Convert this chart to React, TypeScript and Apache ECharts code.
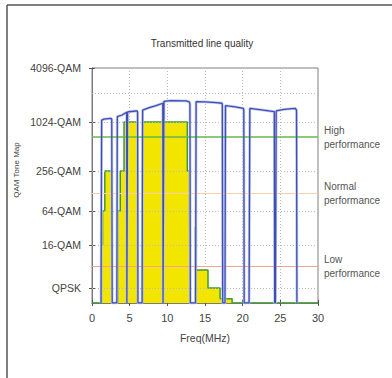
import React, { useEffect, useRef } from 'react';
import * as echarts from 'echarts';

// Y scale: arbitrary "tone level" units, 0 = bottom of plot, 100 = 4096-QAM
const yTickValues = [6.4, 24.7, 39.1, 56.2, 77.0, 100];
const yTickLabels = ['QPSK', '16-QAM', '64-QAM', '256-QAM', '1024-QAM', '4096-QAM'];
const yGridValues = [6.4, 24.7, 39.1, 56.2, 77.0, 89.4];

const thresholdValues = [70.6, 46.8, 15.7];
const thresholdLabels = ['High\nperformance', 'Normal\nperformance', 'Low\nperformance'];
const thresholdColors = ['#66b84a', '#f8cfae', '#f2a392'];

// Tone map (yellow area with green edge)
const toneFreq = [
  0, 1.25, 1.25, 1.4, 1.4, 1.7, 1.7, 2.65, 2.65,
  3.4, 3.4, 3.75, 3.75, 4.25, 4.25, 6.05, 6.05,
  6.7, 6.7, 12.65, 12.65, 12.95, 12.95, 13.02, 13.02,
  13.7, 13.7, 13.85, 13.85, 15.4, 15.4, 17.0, 17.0, 18.6, 18.6, 30,
];
const toneLevel = [
  0, 0, 24.7, 24.7, 39.1, 39.1, 56.2, 56.2, 0,
  0, 39.1, 39.1, 56.2, 56.2, 77.0, 77.0, 0,
  0, 77.0, 77.0, 56.2, 56.2, 39.1, 39.1, 0,
  0, 32.3, 32.3, 14.0, 14.0, 6.4, 6.4, 1.8, 1.8, 0, 0,
];

// Measured line (blue)
const lineFreq = [
  1.2, 1.28, 1.6, 2.5, 2.62, 2.68,
  3.3, 3.36, 4.0, 4.6, 4.63, 4.68, 4.72, 5.5, 6.0, 6.05, 6.1,
  6.65, 6.72, 7.5, 8.5, 9.4, 9.43, 9.5, 9.55, 10.5, 12.5, 12.9, 13.0, 13.05,
  13.75, 13.82, 15, 16.5, 17.25, 17.3, 17.35,
  17.65, 17.72, 19, 20.1, 20.15, 20.2,
  20.85, 20.95, 22.5, 24.2, 24.25, 24.35, 24.45, 25.5, 27.0, 27.15, 27.2,
];
const lineLevel = [
  0, 77.8, 78.2, 78.6, 78.2, 0,
  0, 79.3, 80.0, 81.2, 0, 0, 81.3, 81.6, 81.8, 81.0, 0,
  0, 82.1, 83.0, 84.0, 85.0, 0, 0, 85.8, 86.1, 86.0, 85.6, 84.8, 0,
  0, 85.7, 85.6, 85.3, 85.0, 84.3, 0,
  0, 84.0, 83.5, 82.8, 82.0, 0,
  0, 82.8, 82.2, 81.4, 0, 0, 81.8, 82.4, 82.8, 82.0, 0,
];

const FONT = '"Liberation Sans", Arial, sans-serif';

export default function App() {
  const ref = useRef<HTMLDivElement>(null);

  useEffect(() => {
    const chart = echarts.init(ref.current!, null, { renderer: 'svg' });
    const labelFor = (v: number) => {
      const i = yTickValues.findIndex((t) => Math.abs(t - v) < 1e-6);
      return i >= 0 ? yTickLabels[i] : '';
    };
    const toneData = toneFreq.map((f, i) => [f, toneLevel[i]]);
    const lineData = lineFreq.map((f, i) => [f, lineLevel[i]]);

    const thrLine = (i: number) => ({
      yAxis: thresholdValues[i],
      lineStyle: { color: thresholdColors[i], width: i === 0 ? 1.6 : 1.1, type: 'solid' },
      label: {
        show: true,
        position: 'end',
        formatter: thresholdLabels[i],
        color: '#555',
        fontSize: 10,
        lineHeight: 14,
        distance: 6,
        fontFamily: FONT,
      },
    });

    const axisLineStyle = { show: true, lineStyle: { color: '#7a7a7a', width: 1 } };

    chart.setOption({
      animation: false,
      backgroundColor: '#fff',
      textStyle: { fontFamily: FONT },
      grid: {
        left: 92,
        right: 74,
        top: 68,
        bottom: 75,
        show: true,
        borderColor: '#808080',
        borderWidth: 1,
        backgroundColor: '#fff',
      },
      xAxis: [
        {
          type: 'value',
          min: 0,
          max: 30,
          interval: 5,
          position: 'bottom',
          axisLine: axisLineStyle,
          axisTick: { show: true, inside: true, length: 3, lineStyle: { color: '#555' } },
          axisLabel: { fontSize: 11, color: '#444', margin: 9, fontFamily: FONT },
          splitLine: { show: true, lineStyle: { type: [1, 2], color: '#b8b8b8', width: 1 } },
        },
        {
          type: 'value',
          min: 0,
          max: 30,
          interval: 5,
          position: 'top',
          axisLine: axisLineStyle,
          axisTick: { show: true, inside: true, length: 3, lineStyle: { color: '#555' } },
          axisLabel: { show: false },
          splitLine: { show: false },
        },
      ],
      yAxis: [
        {
          type: 'value',
          min: 0,
          max: 100,
          position: 'left',
          axisLine: axisLineStyle,
          axisTick: { show: true, inside: true, length: 3, customValues: yTickValues, lineStyle: { color: '#555' } },
          axisLabel: {
            customValues: yTickValues,
            formatter: labelFor,
            fontSize: 10.5,
            color: '#444',
            margin: 11,
            fontFamily: FONT,
          },
          splitLine: { show: false },
        },
        {
          type: 'value',
          min: 0,
          max: 100,
          position: 'right',
          axisLine: axisLineStyle,
          axisTick: { show: true, inside: true, length: 3, customValues: yTickValues, lineStyle: { color: '#555' } },
          axisLabel: { show: false },
          splitLine: { show: false },
        },
      ],
      series: [
        {
          type: 'line',
          data: [],
          z: 1,
          silent: true,
          markLine: {
            silent: true,
            symbol: 'none',
            data: [
              ...yGridValues.map((v) => ({
                yAxis: v,
                lineStyle: { type: [1, 2], color: '#b8b8b8', width: 1 },
                label: { show: false },
              })),
              thrLine(1),
              thrLine(2),
            ],
          },
        },
        {
          type: 'line',
          data: toneData,
          z: 2,
          symbol: 'none',
          silent: true,
          lineStyle: { color: '#3f9a35', width: 1.5 },
          areaStyle: { color: '#f2e600', opacity: 1 },
        },
        {
          type: 'line',
          data: [],
          z: 3,
          silent: true,
          markLine: { silent: true, symbol: 'none', data: [thrLine(0)] },
        },
        {
          type: 'line',
          data: lineData,
          z: 4,
          symbol: 'none',
          silent: true,
          lineStyle: { color: '#c2c8ef', width: 2.8 },
        },
        {
          type: 'line',
          data: lineData,
          z: 5,
          symbol: 'none',
          silent: true,
          lineStyle: { color: '#3d4fb3', width: 1.3 },
        },
      ],
      graphic: [
        {
          type: 'line',
          shape: { x1: 7, y1: 5, x2: 392, y2: 5 },
          style: { stroke: '#555', lineWidth: 1.5 },
        },
        {
          type: 'line',
          shape: { x1: 7, y1: 5, x2: 7, y2: 378 },
          style: { stroke: '#555', lineWidth: 1.5 },
        },
        {
          type: 'text',
          x: 202,
          y: 43,
          style: {
            text: 'Transmitted line quality',
            textAlign: 'center',
            textVerticalAlign: 'middle',
            fontSize: 10,
            fill: '#333',
            fontFamily: FONT,
          },
        },
        {
          type: 'text',
          x: 205,
          y: 338,
          style: {
            text: 'Freq(MHz)',
            textAlign: 'center',
            textVerticalAlign: 'middle',
            fontSize: 10.5,
            fill: '#444',
            fontFamily: FONT,
          },
        },
        {
          type: 'text',
          x: 16,
          y: 170,
          rotation: Math.PI / 2,
          style: {
            text: 'QAM Tone Map',
            textAlign: 'center',
            textVerticalAlign: 'middle',
            fontSize: 8,
            fill: '#444',
            fontFamily: FONT,
          },
        },
      ],
    });

    return () => chart.dispose();
  }, []);

  return (
    <div
      ref={ref}
      style={{ position: 'fixed', left: 0, top: 0, width: 392, height: 378, background: '#fff' }}
    />
  );
}
